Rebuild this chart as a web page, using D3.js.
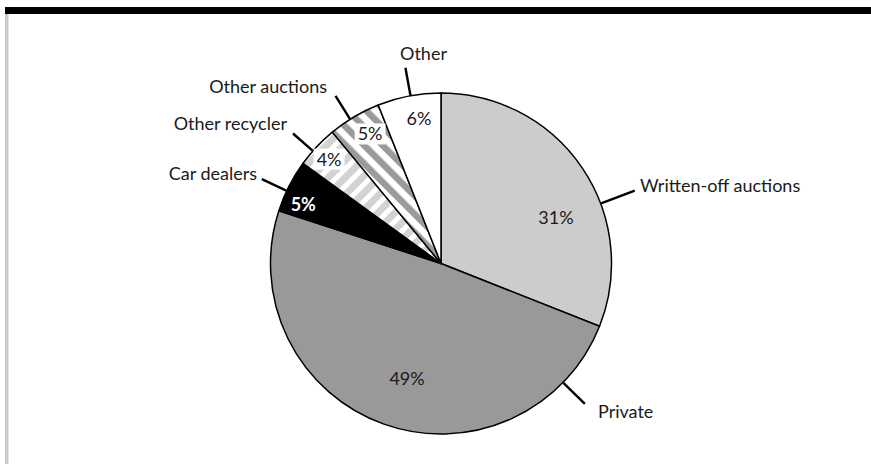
<!DOCTYPE html>
<html>
<head>
<meta charset="utf-8">
<script src="https://cdn.jsdelivr.net/npm/d3@7"></script>
<style>
  html, body { margin: 0; padding: 0; background: #fff; }
  svg { display: block; }
  text { font-family: Lato, "Open Sans", sans-serif; }
</style>
</head>
<body>
<svg id="chart" width="871" height="464"></svg>
<script>
// Where end-of-life vehicles are sold (share of total)
const categories = ["Written-off auctions", "Private", "Car dealers", "Other recycler", "Other auctions", "Other"];
const shares = [31, 49, 5, 4, 5, 6];
const shareLabels = ["31%", "49%", "5%", "4%", "5%", "6%"];

// Slice fills: plain colours or stripe patterns
const fills = ["#cccccc", "#999999", "#000000", "url(#stripeLight)", "url(#stripeDark)", "#ffffff"];

// Placement of in-slice value labels, polar: [angle in degrees clockwise from 12 o'clock, radius]
const valueLabelPolar = [[68, 124], [196.5, 119.5], [293.3, 150], [313, 153], [331.3, 147.7], [351.4, 147]];
// Leader lines: angle, inner and outer radius
const leaderPolar = [[69.4, 171, 207], [134.3, 171, 201], [295.2, 171, 198], [311.3, 171, 197], [327.8, 171, 198], [349.7, 171, 199]];
// Category name placement relative to pie centre: [dx, dy(baseline), anchor]
const namePos = [[199, -71.5, "start"], [157, 154.5, "start"], [-184, -83.5, "end"], [-154, -133.5, "end"], [-114, -170.5, "end"], [-17.5, -203.5, "middle"]];

const W = 871, H = 464;
const cx = 441, cy = 263.5, R = 170.5;
const FONT = 18;
const svg = d3.select("#chart");

// Frame: heavy rule on top, thin grey rule down the left side
svg.append("rect").attr("x", 5).attr("y", 7).attr("width", W - 5).attr("height", 7).attr("fill", "#000");
svg.append("rect").attr("x", 5).attr("y", 14).attr("width", 3.5).attr("height", H - 14).attr("fill", "#cccccc");

// Stripe patterns
const defs = svg.append("defs");
function stripes(id, color, period, band, angle) {
  const p = defs.append("pattern")
    .attr("id", id)
    .attr("patternUnits", "userSpaceOnUse")
    .attr("width", period).attr("height", period)
    .attr("patternTransform", `rotate(${angle})`);
  p.append("rect").attr("width", period).attr("height", period).attr("fill", "#fff");
  p.append("rect").attr("width", band).attr("height", period).attr("fill", color);
}
stripes("stripeLight", "#d3d3d3", 12, 7, 45);
stripes("stripeDark", "#9a9a9a", 13, 6.5, -45);

const pie = d3.pie().sort(null).value(d => d)(shares);
const arc = d3.arc().innerRadius(0).outerRadius(R);

const g = svg.append("g").attr("transform", `translate(${cx},${cy})`);

g.selectAll("path.slice")
  .data(pie)
  .join("path")
  .attr("class", "slice")
  .attr("d", arc)
  .attr("fill", (d, i) => fills[i])
  .attr("stroke", "#000")
  .attr("stroke-width", 1.5)
  .attr("stroke-linejoin", "round");

const rad = a => a * Math.PI / 180;
const polar = (a, r) => [r * Math.sin(rad(a)), -r * Math.cos(rad(a))];

// Leader lines
g.selectAll("line.leader")
  .data(leaderPolar)
  .join("line")
  .attr("class", "leader")
  .attr("x1", d => polar(d[0], d[1])[0])
  .attr("y1", d => polar(d[0], d[1])[1])
  .attr("x2", d => polar(d[0], d[2])[0])
  .attr("y2", d => polar(d[0], d[2])[1])
  .attr("stroke", "#000")
  .attr("stroke-width", 2.4);

// Category names
g.selectAll("text.name")
  .data(categories)
  .join("text")
  .attr("class", "name")
  .attr("x", (d, i) => namePos[i][0])
  .attr("y", (d, i) => namePos[i][1])
  .attr("text-anchor", (d, i) => namePos[i][2])
  .attr("font-size", FONT)
  .attr("fill", "#1a1a1a")
  .text(d => d);

// Value labels inside the slices
const vl = g.selectAll("g.value")
  .data(pie)
  .join("g")
  .attr("class", "value")
  .attr("transform", (d, i) => {
    const [x, y] = polar(valueLabelPolar[i][0], valueLabelPolar[i][1]);
    return `translate(${x},${y})`;
  });

vl.append("text")
  .attr("text-anchor", "middle")
  .attr("y", 6.5)
  .attr("font-size", FONT)
  .attr("font-weight", (d, i) => i === 2 ? "bold" : "normal")
  .attr("fill", (d, i) => i === 2 ? "#fff" : "#1a1a1a")
  .text((d, i) => shareLabels[i]);

// White boxes behind labels on striped slices
vl.each(function(d, i) {
  if (i !== 3 && i !== 4) return;
  const t = d3.select(this).select("text");
  const b = t.node().getBBox();
  d3.select(this).insert("rect", "text")
    .attr("x", b.x - 3).attr("y", b.y + 1)
    .attr("width", b.width + 6).attr("height", b.height - 1)
    .attr("fill", "#fff");
});
</script>
</body>
</html>
